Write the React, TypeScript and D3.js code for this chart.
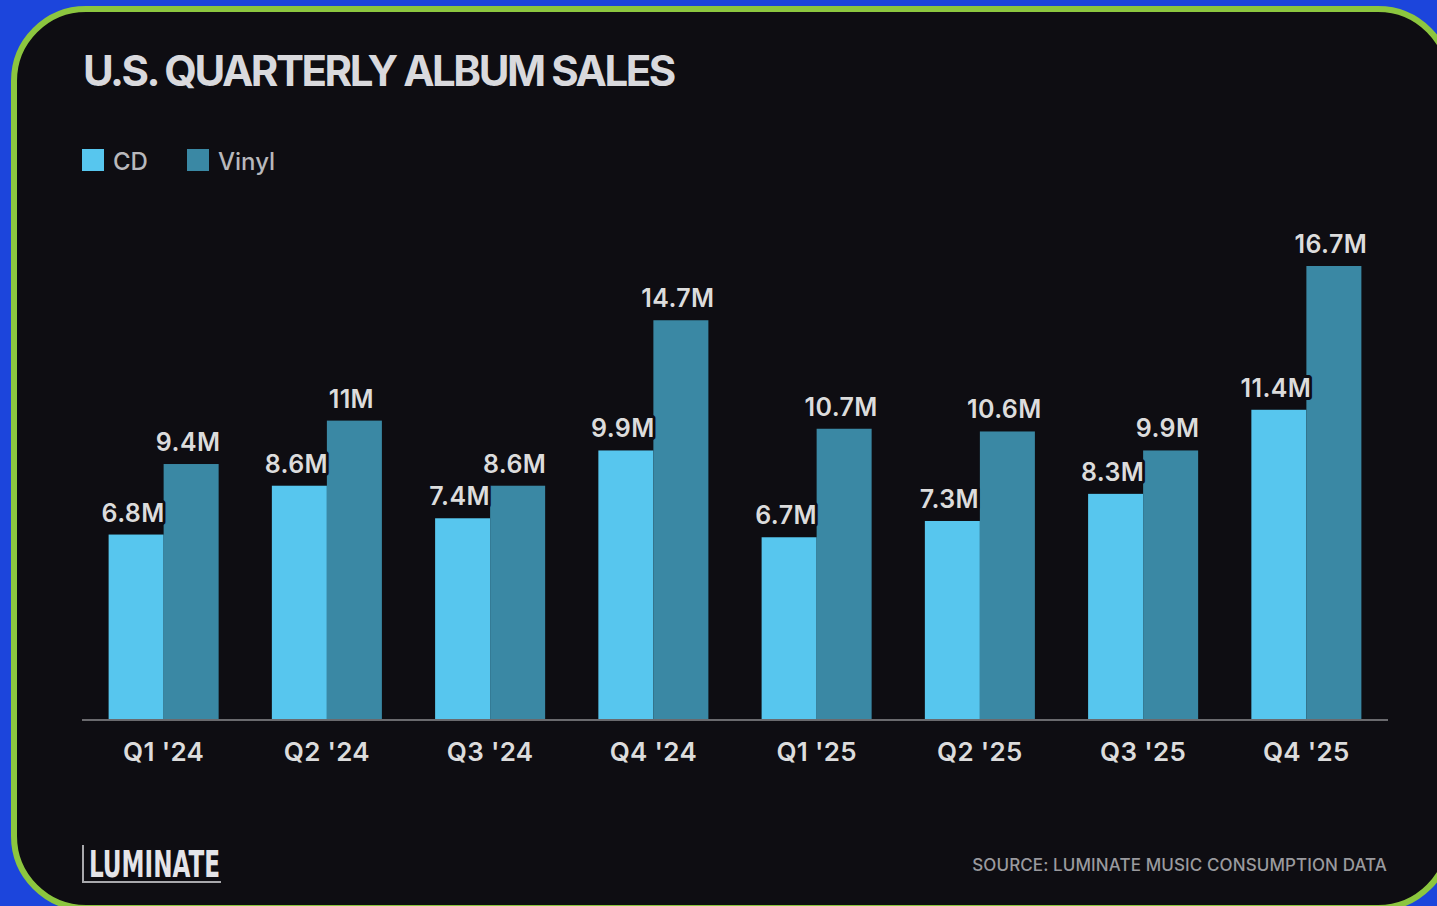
import React from "react";
import * as d3 from "d3";

const quarters = ["Q1 '24", "Q2 '24", "Q3 '24", "Q4 '24", "Q1 '25", "Q2 '25", "Q3 '25", "Q4 '25"];
const cdSales = [6.8, 8.6, 7.4, 9.9, 6.7, 7.3, 8.3, 11.4];
const vinylSales = [9.4, 11, 8.6, 14.7, 10.7, 10.6, 9.9, 16.7];
const cdLabels = ["6.8M", "8.6M", "7.4M", "9.9M", "6.7M", "7.3M", "8.3M", "11.4M"];
const vinylLabels = ["9.4M", "11M", "8.6M", "14.7M", "10.7M", "10.6M", "9.9M", "16.7M"];
const seriesNames = ["CD", "Vinyl"];

const W = 1437;
const H = 906;
const CD_COLOR = "#57c6ee";
const VINYL_COLOR = "#3a88a4";
const BG = "#0e0d12";

export default function App() {
  const baseY = 719;
  const x0 = d3.scaleBand<string>().domain(quarters).range([82, 1388]).paddingInner(0.326).paddingOuter(0.163);
  const x1 = d3.scaleBand<string>().domain(seriesNames).range([0, x0.bandwidth()]).padding(0);
  const y = d3.scaleLinear().domain([0, 16.7]).range([baseY, 266]);

  const font = "Inter, 'Liberation Sans', Arial, sans-serif";
  const bars: JSX.Element[] = [];
  const labels: JSX.Element[] = [];
  quarters.forEach((q, i) => {
    const vals = [cdSales[i], vinylSales[i]];
    const labs = [cdLabels[i], vinylLabels[i]];
    const cols = [CD_COLOR, VINYL_COLOR];
    seriesNames.forEach((s, j) => {
      const bx = (x0(q) as number) + (x1(s) as number);
      const bw = x1.bandwidth();
      const top = y(vals[j]);
      bars.push(<rect key={`b${i}${j}`} x={bx} y={top} width={bw} height={baseY - top} fill={cols[j]} />);
      labels.push(
        <text key={`l${i}${j}`} x={bx + bw / 2 - 3} y={top - 13} textAnchor="middle" fontFamily={font}
          fontWeight={600} fontSize={25} letterSpacing={0.4} fill="#dcdcdc" stroke={BG} strokeWidth={6} paintOrder="stroke"
          strokeLinejoin="round">{labs[j]}</text>
      );
    });
  });

  return (
    <div style={{ position: "fixed", left: 0, top: 0, width: W, height: H }}>
      <svg width={W} height={H} style={{ display: "block" }}>
        <rect x={0} y={0} width={W} height={H} fill="#1c45dc" />
        <rect x={14} y={9} width={1436} height={899} rx={72} ry={72} fill={BG} stroke="#8cc63f" strokeWidth={6} />
        <text x={83} y={86} fontFamily={font} fontWeight={700} fontSize={42} letterSpacing={-2.45} fill="#d9d9dd">
          U.S. QUARTERLY ALBUM SALES
        </text>
        {/* legend */}
        <rect x={82} y={149} width={22} height={22} fill={CD_COLOR} />
        <text x={113} y={170} fontFamily={font} fontWeight={500} fontSize={24} fill="#b8b8bc">CD</text>
        <rect x={187} y={149} width={22} height={22} fill={VINYL_COLOR} />
        <text x={218} y={170} fontFamily={font} fontWeight={500} fontSize={24} fill="#b8b8bc">Vinyl</text>
        {bars}
        <line x1={82} x2={1388} y1={baseY + 1} y2={baseY + 1} stroke="#6a6a6e" strokeWidth={2} />
        {labels}
        {quarters.map((q) => (
          <text key={q} x={(x0(q) as number) + x0.bandwidth() / 2} y={761} textAnchor="middle" fontFamily={font}
            fontWeight={600} fontSize={26} letterSpacing={0.3} fill="#dcdcdc">{q}</text>
        ))}
        {/* logo */}
        <line x1={83} y1={845} x2={83} y2={882} stroke="#a8a8ac" strokeWidth={2} />
        <line x1={82} y1={882} x2={221} y2={882} stroke="#a8a8ac" strokeWidth={2} />
        <text x={89} y={877} fontFamily="'Liberation Sans Narrow', 'DejaVu Sans Condensed', sans-serif" fontWeight={700}
          fontSize={38} textLength={131} lengthAdjust="spacingAndGlyphs" fill="#e4e4e8">LUMINATE</text>
        <text x={1387} y={871} textAnchor="end" fontFamily={font} fontWeight={500} fontSize={17} letterSpacing={0.1}
          fill="#9a9a9e">SOURCE: LUMINATE MUSIC CONSUMPTION DATA</text>
      </svg>
    </div>
  );
}
